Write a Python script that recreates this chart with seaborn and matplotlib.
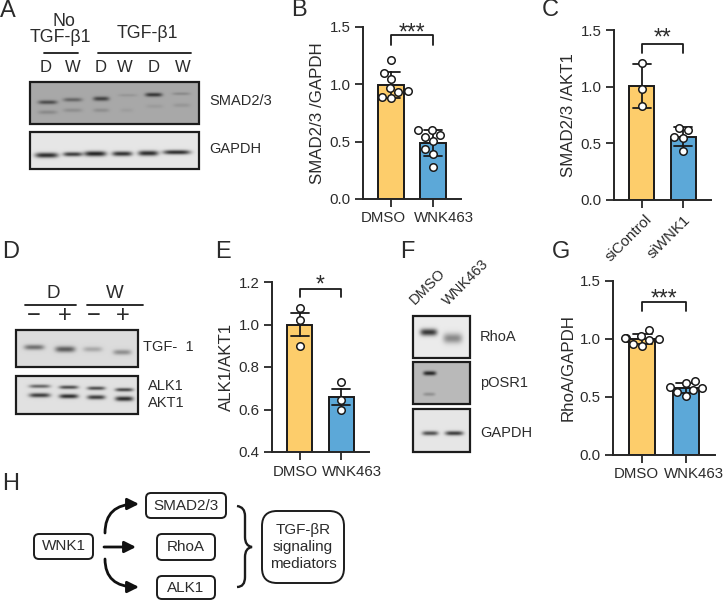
import numpy as np
import pandas as pd
import seaborn as sns
import matplotlib
matplotlib.use("Agg")
import matplotlib.pyplot as plt
from matplotlib.patches import FancyBboxPatch, FancyArrowPatch, PathPatch, Rectangle
from matplotlib.path import Path
from matplotlib.transforms import ScaledTranslation

sns.set_style("ticks")
plt.rcParams["font.family"] = ["Liberation Sans", "DejaVu Sans"]

W, H = 724, 600
ORANGE = "#FDCD6B"
BLUE = "#5CA8D8"
TEXT = "#2b2b2b"

# values
b_dmso = [1.21, 1.10, 1.05, 0.97, 0.94, 0.93, 0.89, 0.88]
b_wnk = [0.60, 0.60, 0.56, 0.545, 0.51, 0.435, 0.39, 0.28]
c_ctrl = [1.21, 0.98, 0.83]
c_si = [0.637, 0.62, 0.56, 0.55, 0.434]
e_dmso = [1.079, 1.02, 0.90]
e_wnk = [0.728, 0.646, 0.60]
g_dmso = [1.08, 1.03, 1.01, 1.01, 1.0, 0.99, 0.96, 0.94]
g_wnk = [0.637, 0.617, 0.59, 0.574, 0.56, 0.545, 0.51]

dmso_labels = ["DMSO", "WNK463"]
si_labels = ["siControl", "siWNK1"]

fig = plt.figure(figsize=(W / 100, H / 100), dpi=100)


def px_axes(left, top, right, bottom):
    return fig.add_axes([left / W, 1 - bottom / H, (right - left) / W, (bottom - top) / H])


def bar_panel(box, labels, first, second, ylim, ticks, ylabel, err, bracket, stars, shift, ms=5.4):
    ax = px_axes(*box)
    df = pd.DataFrame({
        "group": [labels[0]] * len(first) + [labels[1]] * len(second),
        "value": list(first) + list(second),
    })
    pal = {labels[0]: ORANGE, labels[1]: BLUE}
    sns.barplot(data=df, x="group", y="value", hue="group", palette=pal, width=0.6,
                errorbar=err, capsize=0.43, edgecolor="#1a1a1a", linewidth=1.4,
                saturation=1, legend=False, ax=ax,
                err_kws={"color": "#1a1a1a", "linewidth": 1.3})
    sns.swarmplot(data=df, x="group", y="value", color="white", edgecolor="#1a1a1a",
                  linewidth=1.1, size=ms, zorder=5, ax=ax)
    ax.set_xlim(-0.667, 1.667)
    ax.set_ylim(*ylim)
    ax.set_yticks(ticks)
    ax.set_yticklabels([f"{t:.1f}" for t in ticks])
    ax.set_xlabel("")
    ax.set_ylabel(ylabel, fontsize=12.2, color=TEXT, labelpad=3)
    ax.tick_params(axis="both", width=1.3, length=6, labelsize=10.8, labelcolor=TEXT, pad=3)
    sns.despine(ax=ax)
    for s in ["left", "bottom"]:
        ax.spines[s].set_linewidth(1.4)
    # tick labels sit a little apart from the bar centres in the figure
    for lab, dx in zip(ax.get_xticklabels(), shift):
        lab.set_transform(lab.get_transform() + ScaledTranslation(dx * 0.72 / 72, 0, fig.dpi_scale_trans))
    top, low, star_y = bracket
    ax.plot([0, 0, 1, 1], [low, top, top, low], color="#1a1a1a", lw=1.3, clip_on=False)
    ax.text(0.5, star_y, stars, ha="center", va="center", fontsize=16.5, color=TEXT, clip_on=False)
    return ax


bar_panel((363, 27, 461, 199), dmso_labels, b_dmso, b_wnk, (0, 1.5), [0, 0.5, 1.0, 1.5],
          "SMAD2/3 /GAPDH", "sd", (1.43, 1.347, 1.445), "***", (-8, 11))
ax_c = bar_panel((614, 30, 711, 200), si_labels, c_ctrl, c_si, (0, 1.5), [0, 0.5, 1.0, 1.5],
                 "SMAD2/3 /AKT1", "sd", (1.374, 1.30, 1.425), "**", (3, 0))
plt.setp(ax_c.get_xticklabels(), rotation=45, ha="right", rotation_mode="anchor")
bar_panel((272, 282, 369, 452), dmso_labels, e_dmso, e_wnk, (0.4, 1.2), [0.4, 0.6, 0.8, 1.0, 1.2],
          "ALK1/AKT1", "se", (1.169, 1.13, 1.185), "*", (-4, 11))
bar_panel((613, 281, 715, 455), dmso_labels, g_dmso, g_wnk, (0, 1.5), [0, 0.5, 1.0, 1.5],
          "RhoA/GAPDH", "sd", (1.32, 1.24, 1.345), "***", (-6, 8))

# overlay in pixel coordinates for blots, labels and the diagram
ov = fig.add_axes([0, 0, 1, 1], zorder=-1)
ov.axis("off")


def blot(x0, y0, x1, y1, bg, bands):
    xs = np.arange(x0, x1, 0.5)
    ys = np.arange(y0, y1, 0.5)
    gx, gy = np.meshgrid(xs, ys)
    img = np.full(gx.shape, bg, dtype=float)
    for a, b, y, h, s in bands:
        cx, sx = (a + b) / 2, (b - a) / 2
        img -= s * np.exp(-((gx - cx) / sx) ** 4 - ((gy - y) / h) ** 2)
    ov.imshow(np.clip(img, 0, 1), cmap="gray", vmin=0, vmax=1, aspect="auto",
              extent=(x0, x1, y1, y0), interpolation="bilinear")
    ov.add_patch(Rectangle((x0, y0), x1 - x0, y1 - y0, fill=False, ec="#1c1c1c", lw=1.6))


# panel A
blot(30, 82, 199, 124, 0.66, [
    (38, 57, 102, 2.0, 0.36), (63, 82, 99.5, 2.0, 0.26), (93, 109, 98.5, 2.2, 0.40),
    (118, 137, 95, 1.5, 0.07), (145, 162, 94.5, 2.0, 0.45), (172, 190, 93.5, 1.5, 0.12),
    (38, 57, 112, 2.0, 0.12), (63, 82, 110, 2.0, 0.10), (93, 109, 110, 2.0, 0.10),
    (120, 133, 110, 2.0, 0.04), (146, 163, 106, 2.0, 0.05), (173, 190, 105, 2.0, 0.07),
])
blot(30, 132, 199, 169, 0.90, [
    (35, 58, 155, 2.6, 0.72), (63, 82, 154, 2.2, 0.66), (84, 106, 153.5, 2.6, 0.76),
    (112, 132, 153.5, 2.4, 0.70), (138, 158, 153, 2.6, 0.72), (163, 190, 152, 2.2, 0.72),
])
# panel D
blot(16, 330, 138, 367, 0.86, [
    (24, 44, 347, 2.6, 0.42), (55, 75, 349, 3.0, 0.50),
    (83, 102, 349, 2.6, 0.20), (113, 131, 352, 2.6, 0.30),
])
blot(16, 376, 138, 414, 0.88, [
    (29, 50, 386, 1.8, 0.48), (59, 78, 387, 1.8, 0.58), (87, 105, 388, 1.8, 0.58), (115, 133, 389.5, 1.8, 0.60),
    (29, 50, 395, 2.2, 0.64), (59, 78, 396, 2.2, 0.70), (87, 105, 397, 2.2, 0.64), (115, 133, 398.5, 2.4, 0.70),
])
# panel F
blot(413, 316, 470, 358, 0.92, [(420, 437, 332, 3.5, 0.70), (443, 462, 338, 5.0, 0.38)])
blot(413, 362, 470, 404, 0.73, [(423, 436, 373, 2.2, 0.58), (423, 435, 394, 1.8, 0.16)])
blot(413, 409, 470, 452, 0.90, [(422, 438, 433, 2.2, 0.58), (445, 463, 433, 2.2, 0.66)])

for label, x, y in [("A", 8, 11), ("B", 299, 10), ("C", 550, 10), ("D", 11, 252),
                    ("E", 223, 252), ("F", 407, 252), ("G", 561, 252), ("H", 11, 484)]:
    ov.text(x, y, label, fontsize=17, ha="center", va="center", color=TEXT)


def txt(x, y, s, size=10.5, ha="left", **kw):
    ov.text(x, y, s, fontsize=size, ha=ha, va="center", color=TEXT, **kw)


txt(64, 21, "No", 12.8, "center")
txt(60, 37, "TGF-β1", 12.8, "center")
txt(147, 33, "TGF-β1", 12.8, "center")
for x, s in [(46, "D"), (73, "W"), (101, "D"), (125, "W"), (154, "D"), (183, "W")]:
    txt(x, 68, s, 12, "center")
ov.plot([44, 78], [53, 53], color="#1a1a1a", lw=1.3)
ov.plot([98, 191], [53, 53], color="#1a1a1a", lw=1.3)
txt(209, 101, "SMAD2/3")
txt(209, 149, "GAPDH")

txt(53, 293, "D", 13.5, "center")
txt(115, 293, "W", 13.5, "center")
ov.plot([25, 76], [305, 305], color="#1a1a1a", lw=1.3)
ov.plot([87, 143], [305, 305], color="#1a1a1a", lw=1.3)
for x, s in [(34, "−"), (65, "+"), (94, "−"), (123, "+")]:
    txt(x, 316, s, 17, "center")
txt(143, 347, "TGF-  1")
txt(148, 386, "ALK1")
txt(148, 403, "AKT1")

ov.text(417, 307, "DMSO", fontsize=10.5, rotation=45, ha="left", va="bottom",
        rotation_mode="anchor", color=TEXT)
ov.text(450, 308, "WNK463", fontsize=10.5, rotation=45, ha="left", va="bottom",
        rotation_mode="anchor", color=TEXT)
txt(480, 337, "RhoA")
txt(480, 383, "pOSR1")
txt(480, 433, "GAPDH")

# panel H
for x0, y0, x1, y1, s, r in [(146, 493, 226, 518, "SMAD2/3", 5), (34, 534, 93, 559, "WNK1", 5),
                             (157, 534, 215, 560, "RhoA", 5), (157, 576, 215, 599, "ALK1", 5),
                             (262, 511, 344, 583, "TGF-βR\nsignaling\nmediators", 15)]:
    ov.add_patch(FancyBboxPatch((x0, y0), x1 - x0, y1 - y0, boxstyle=f"round,pad=0,rounding_size={r}",
                                fc="white", ec="#1c1c1c", lw=1.4))
    ov.text((x0 + x1) / 2, (y0 + y1) / 2, s, fontsize=11, ha="center", va="center",
            color=TEXT, linespacing=1.25)

for a, b, style in [((105, 533), (139, 504), "angle3,angleA=90,angleB=0"),
                    ((104, 547), (136, 547), "arc3"),
                    ((105, 559), (139, 587), "angle3,angleA=90,angleB=0")]:
    ov.add_patch(FancyArrowPatch(a, b, connectionstyle=style, arrowstyle="-|>", mutation_scale=17,
                                 lw=2, color="#111111", shrinkA=0, shrinkB=0))

brace = [(237, 506), (245, 507), (245, 516), (245, 537), (245, 546), (252, 547),
         (245, 548), (245, 557), (245, 577), (245, 587), (237, 587)]
codes = [Path.MOVETO, Path.CURVE3, Path.CURVE3, Path.LINETO, Path.CURVE3, Path.CURVE3,
         Path.CURVE3, Path.CURVE3, Path.LINETO, Path.CURVE3, Path.CURVE3]
ov.add_patch(PathPatch(Path(brace, codes), fc="none", ec="#1c1c1c", lw=1.7))

ov.set_xlim(0, W)
ov.set_ylim(H, 0)

fig.savefig("out.png", dpi=100)
